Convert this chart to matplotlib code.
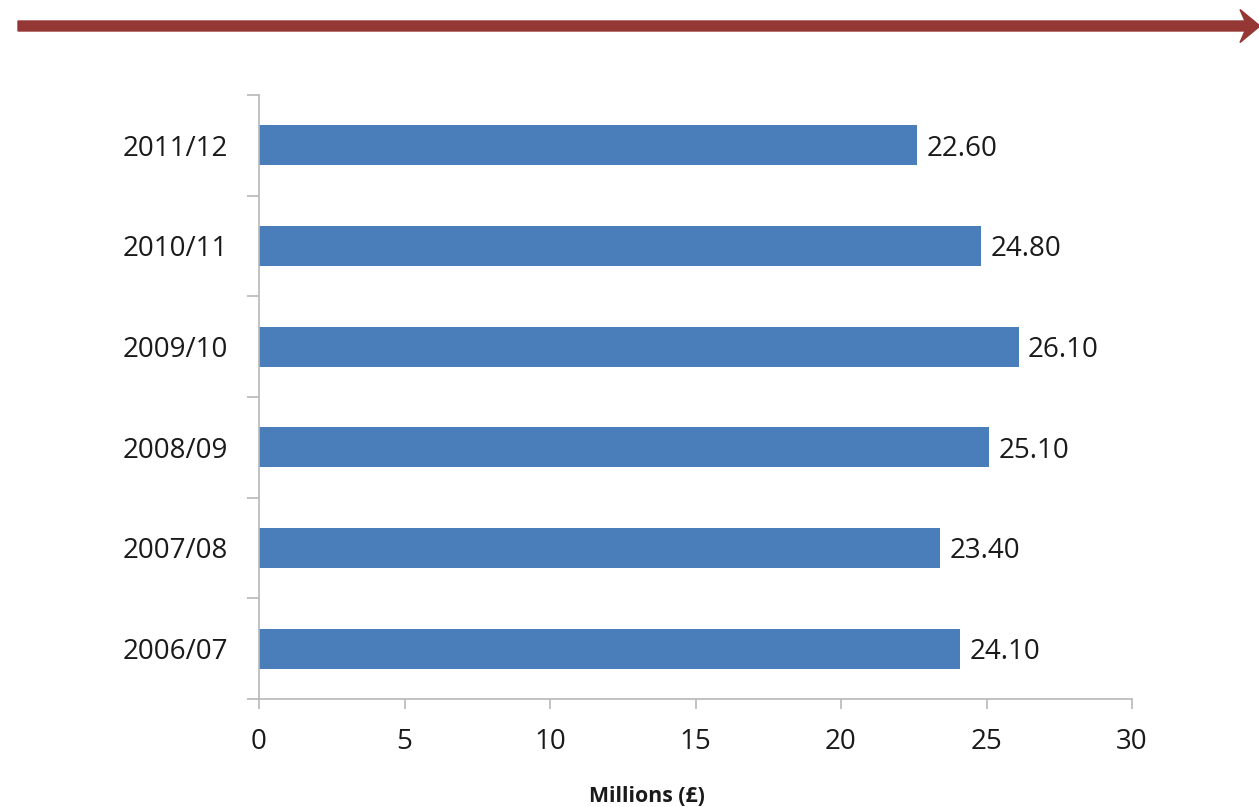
import matplotlib.pyplot as plt
import matplotlib.patches as mpatches
import numpy as np

years = ['2006/07', '2007/08', '2008/09', '2009/10', '2010/11', '2011/12']
spend = [24.10, 23.40, 25.10, 26.10, 24.80, 22.60]
xticks = [0, 5, 10, 15, 20, 25, 30]

plt.rcParams['font.family'] = ['Open Sans', 'DejaVu Sans']

fig = plt.figure(figsize=(12.59, 8.07), dpi=100)
ax = fig.add_axes([259/1259, 1 - 699/807, (1132 - 259)/1259, (699 - 95)/807])

pos = np.arange(len(years))
bars = ax.barh(pos, spend, height=0.4, color='#4a7ebb')
for b, v in zip(bars, spend):
    ax.text(v + 0.33, b.get_y() + b.get_height()/2, f'{v:.2f}',
            va='center_baseline', ha='left', fontsize=20, color='#1a1a1a')

ax.set_xlim(0, 30)
ax.set_ylim(-0.5, len(years) - 0.5)
ax.set_xticks(xticks)
ax.set_xticklabels([str(t) for t in xticks], fontsize=20, color='#1a1a1a')
ax.set_yticks(pos)
ax.set_yticklabels(years, fontsize=20, color='#1a1a1a')
ax.set_yticks(np.arange(len(years) + 1) - 0.5, minor=True)

axis_col = '#b8b8b8'
for s in ['top', 'right']:
    ax.spines[s].set_visible(False)
for s in ['left', 'bottom']:
    ax.spines[s].set_color(axis_col)
    ax.spines[s].set_linewidth(1.2)

ax.tick_params(axis='y', which='major', length=0, pad=22)
ax.tick_params(axis='y', which='minor', length=8.5, width=1.2, color=axis_col)
ax.tick_params(axis='x', which='major', length=7, width=1.2, color=axis_col, pad=14)

fig.text(647/1259, 1 - 796/807, 'Millions (£)', ha='center', va='center',
         fontsize=15.3, fontweight='bold', color='#1a1a1a')

# red arrow across the top
arrow = mpatches.FancyArrow(0.18, 7.81, 12.22, 0, width=0.10, head_width=0.33,
                            head_length=0.2, overhang=0.25, length_includes_head=False,
                            color='#953735', transform=fig.dpi_scale_trans)
fig.patches.append(arrow)

fig.savefig('out.png', dpi=100)
